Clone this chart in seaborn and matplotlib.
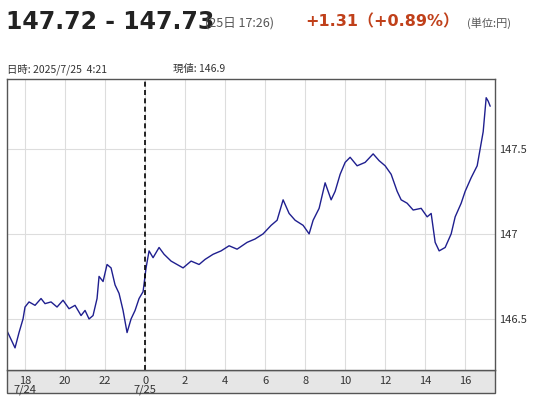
import matplotlib
matplotlib.use("Agg")
import matplotlib.pyplot as plt
import seaborn as sns
import pandas as pd
from matplotlib.patches import Rectangle

sns.set_theme(style="white")
plt.rcParams['font.family'] = ['Noto Sans CJK JP', 'DejaVu Sans']
DJ = ['DejaVu Sans', 'Noto Sans CJK JP']

hours = [-6.9,-6.7,-6.5,-6.3,-6.1,-6.0,-5.8,-5.5,-5.2,-5.0,-4.7,-4.4,-4.1,-3.8,-3.5,-3.2,-3.0,-2.8,-2.6,-2.4,-2.3,-2.1,-1.9,-1.7,-1.5,-1.3,-1.1,-0.9,-0.7,-0.5,-0.3,-0.1,0.05,0.2,0.4,0.7,0.95,1.3,1.6,1.9,2.3,2.7,3.0,3.4,3.8,4.2,4.6,5.1,5.5,5.9,6.3,6.6,6.9,7.2,7.5,7.9,8.2,8.4,8.7,9.0,9.3,9.5,9.75,10.0,10.25,10.6,11.0,11.4,11.7,12.0,12.3,12.6,12.8,13.1,13.4,13.8,14.1,14.3,14.5,14.7,15.0,15.3,15.5,15.8,16.0,16.3,16.6,16.9,17.05,17.15,17.25]
price = [146.43,146.38,146.33,146.42,146.5,146.57,146.6,146.58,146.62,146.59,146.6,146.57,146.61,146.56,146.58,146.52,146.55,146.5,146.52,146.62,146.75,146.72,146.82,146.8,146.7,146.65,146.55,146.42,146.5,146.55,146.62,146.66,146.8,146.9,146.86,146.92,146.88,146.84,146.82,146.8,146.84,146.82,146.85,146.88,146.9,146.93,146.91,146.95,146.97,147.0,147.05,147.08,147.2,147.12,147.08,147.05,147.0,147.08,147.15,147.3,147.2,147.25,147.35,147.42,147.45,147.4,147.42,147.47,147.43,147.4,147.35,147.25,147.2,147.18,147.14,147.15,147.1,147.12,146.95,146.9,146.92,147.0,147.1,147.18,147.25,147.33,147.4,147.6,147.8,147.78,147.75]
tick_pos = [-6,-4,-2,0,2,4,6,8,10,12,14,16]
tick_lab = ["18\n7/24","20","22","0\n7/25","2","4","6","8","10","12","14","16"]
y_ticks = [146.5, 147, 147.5]

df = pd.DataFrame({"h": hours, "p": price})
fig = plt.figure(figsize=(5.4, 4.0), dpi=100)
ax = fig.add_axes([0.013, 0.075, 0.904, 0.7275])
sns.lineplot(data=df, x="h", y="p", ax=ax, color="#1f1f8f", lw=1.0)
ax.set_xlim(-6.9, 17.5)
ax.set_ylim(146.2, 147.91)
ax.set_xlabel(""); ax.set_ylabel("")
ax.set_xticks(tick_pos)
ax.set_xticklabels(tick_lab, fontsize=8, color="#333333", linespacing=0.9, va="top")
ax.set_yticks(y_ticks)
ax.set_yticklabels([str(v) for v in y_ticks], fontsize=8, color="#333333")
ax.yaxis.tick_right()
ax.tick_params(length=0, pad=3)
ax.tick_params(axis="x", pad=4)
for p in tick_pos:
    ax.axvline(p, color="#dddddd", lw=0.8, zorder=0)
for v in y_ticks:
    ax.axhline(v, color="#dddddd", lw=0.8, zorder=0)
ax.axvline(0, color="black", lw=1.2, ls=(0, (3, 2)))
for s in ax.spines.values():
    s.set_color("#555555"); s.set_linewidth(1)
fig.patches.append(Rectangle((0.013, 0.017), 0.904, 0.058, transform=fig.transFigure,
                             facecolor="#e6e6e6", edgecolor="#555555", lw=1, zorder=-1))

fig.text(0.012, 0.945, "147.72 - 147.73", fontsize=17, weight="bold", color="#222222", va="center", family=DJ)
fig.text(0.38, 0.943, "(25日 17:26)", fontsize=9, color="#555555", va="center")
fig.text(0.565, 0.945, "+1.31（+0.89%）", fontsize=11.5, weight="bold", color="#c0401a", va="center", family=DJ)
fig.text(0.865, 0.943, "(単位:円)", fontsize=8, color="#555555", va="center")
fig.text(0.013, 0.827, "日時: 2025/7/25  4:21", fontsize=7.5, color="#333333", va="center")
fig.text(0.32, 0.827, "現値: 146.9", fontsize=7.5, color="#333333", va="center")
fig.savefig("out.png", dpi=100)
